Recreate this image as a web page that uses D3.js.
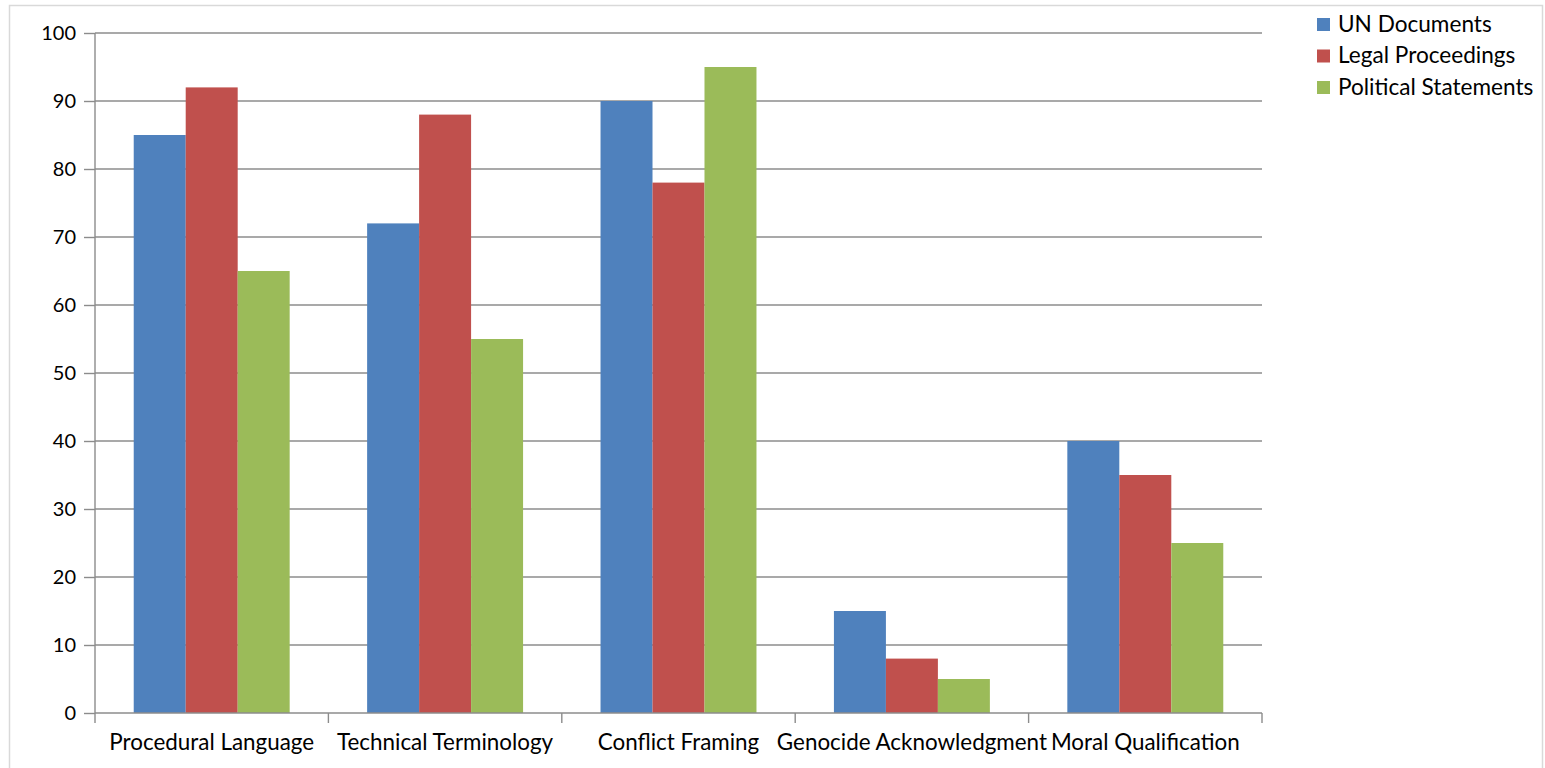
<!DOCTYPE html>
<html>
<head>
<meta charset="utf-8">
<script src="https://cdn.jsdelivr.net/npm/d3@7"></script>
<style>
  body { margin: 0; background: #fff; }
  svg { display: block; font-family: Lato, Carlito, "Open Sans", sans-serif; }
</style>
</head>
<body>
<svg id="chart"></svg>
<script>
var categories = ["Procedural Language", "Technical Terminology", "Conflict Framing", "Genocide Acknowledgment", "Moral Qualification"];
var seriesNames = ["UN Documents", "Legal Proceedings", "Political Statements"];
var unDocs = [85, 72, 90, 15, 40];
var legal = [92, 88, 78, 8, 35];
var political = [65, 55, 95, 5, 25];
var yTicks = [0, 10, 20, 30, 40, 50, 60, 70, 80, 90, 100];
var colors = ["#4f81bd", "#c0504d", "#9bbb59"];

var allSeries = [unDocs, legal, political];

var svgWidth = 1545, svgHeight = 768;
var margin = { top: 33, right: 283, bottom: 55, left: 95 };
var width = svgWidth - margin.left - margin.right;
var height = svgHeight - margin.top - margin.bottom;

var svg = d3.select("#chart")
  .attr("width", svgWidth)
  .attr("height", svgHeight);

// outer frame
svg.append("rect")
  .attr("x", 9.5).attr("y", 5.5)
  .attr("width", 1533).attr("height", 775)
  .attr("fill", "none")
  .attr("stroke", "#d9d9d9")
  .attr("stroke-width", 1.5);

var g = svg.append("g")
  .attr("transform", "translate(" + margin.left + "," + margin.top + ")");

var x = d3.scaleBand().domain(categories).range([0, width]).padding(0);
var x1 = d3.scaleBand().domain(seriesNames).range([0, x.bandwidth()])
  .paddingInner(0).paddingOuter(0.745);
var y = d3.scaleLinear().domain([0, 100]).range([height, 0]);

// gridlines
g.append("g")
  .selectAll("line")
  .data(yTicks.filter(function(d) { return d > 0; }))
  .join("line")
  .attr("x1", 0).attr("x2", width)
  .attr("y1", function(d) { return y(d); })
  .attr("y2", function(d) { return y(d); })
  .attr("stroke", "#8c8c8c")
  .attr("stroke-width", 1.4);

// bars
var groups = g.append("g")
  .selectAll("g")
  .data(categories)
  .join("g")
  .attr("transform", function(d) { return "translate(" + x(d) + ",0)"; });

groups.selectAll("rect")
  .data(function(d, i) {
    return seriesNames.map(function(s, j) { return { series: s, value: allSeries[j][i], idx: j }; });
  })
  .join("rect")
  .attr("x", function(d) { return x1(d.series); })
  .attr("width", x1.bandwidth())
  .attr("y", function(d) { return y(d.value); })
  .attr("height", function(d) { return height - y(d.value); })
  .attr("fill", function(d) { return colors[d.idx]; });

// y axis
var yAxis = g.append("g")
  .call(d3.axisLeft(y).tickValues(yTicks).tickSize(11).tickPadding(8));
yAxis.select(".domain").attr("stroke", "#8c8c8c").attr("stroke-width", 1.4)
  .attr("d", "M0,0V" + height);
yAxis.selectAll(".tick line").attr("stroke", "#8c8c8c").attr("stroke-width", 1.4);
yAxis.selectAll("text")
  .attr("font-size", 20)
  .attr("fill", "#000")
  .attr("font-family", "Lato, Carlito, sans-serif");

// x axis with boundary ticks
var xAxis = g.append("g")
  .attr("transform", "translate(0," + height + ")");
xAxis.append("line")
  .attr("x1", 0).attr("x2", width)
  .attr("stroke", "#8c8c8c").attr("stroke-width", 1.4);
var bounds = categories.map(function(d) { return x(d); }).concat([width]);
xAxis.selectAll("line.tk")
  .data(bounds)
  .join("line")
  .attr("class", "tk")
  .attr("x1", function(d) { return d; }).attr("x2", function(d) { return d; })
  .attr("y1", 0).attr("y2", 10)
  .attr("stroke", "#8c8c8c").attr("stroke-width", 1.4);
xAxis.selectAll("text")
  .data(categories)
  .join("text")
  .attr("x", function(d) { return x(d) + x.bandwidth() / 2; })
  .attr("y", 37)
  .attr("text-anchor", "middle")
  .attr("font-size", 22.4)
  .attr("fill", "#000")
  .text(function(d) { return d; });

// legend
var legend = svg.append("g")
  .attr("transform", "translate(1317,24)");
var items = legend.selectAll("g")
  .data(seriesNames)
  .join("g")
  .attr("transform", function(d, i) { return "translate(0," + (i * 31.5) + ")"; });
items.append("rect")
  .attr("x", 0).attr("y", -6)
  .attr("width", 13).attr("height", 13)
  .attr("fill", function(d, i) { return colors[i]; });
items.append("text")
  .attr("x", 21).attr("y", 0)
  .attr("dy", "0.35em")
  .attr("font-size", 22.6)
  .attr("fill", "#000")
  .text(function(d) { return d; });
</script>
</body>
</html>
